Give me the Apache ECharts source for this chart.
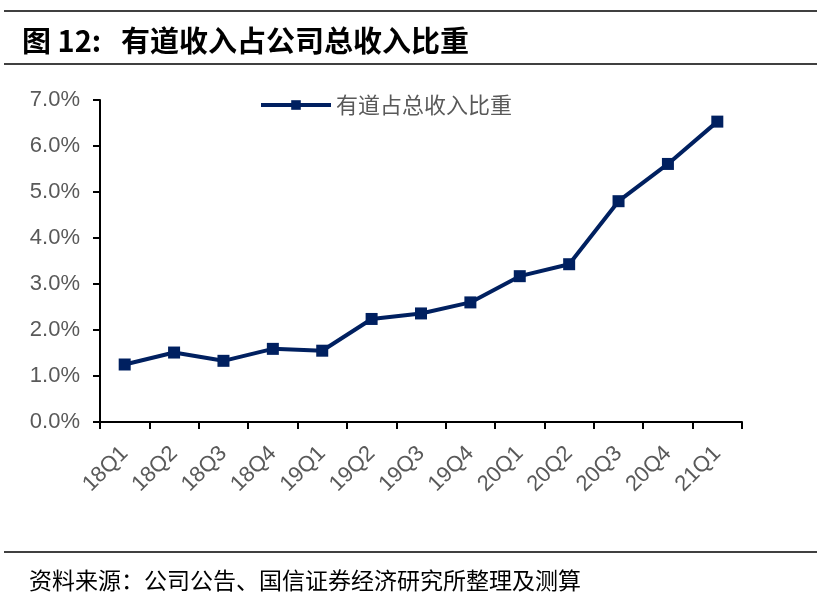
<!DOCTYPE html>
<html>
<head>
<meta charset="utf-8">
<style>
  html, body { margin: 0; padding: 0; background: #fff; }
  #chart { width: 821px; height: 597px; }
</style>
<script src="https://cdn.jsdelivr.net/npm/echarts@6/dist/echarts.min.js"></script>
</head>
<body>
<div id="chart"></div>
<script>
// 季度
var quarters = ['18Q1', '18Q2', '18Q3', '18Q4', '19Q1', '19Q2', '19Q3', '19Q4',
                '20Q1', '20Q2', '20Q3', '20Q4', '21Q1'];
// 有道占总收入比重 (%)
var shareValues = [1.25, 1.51, 1.33, 1.59, 1.55, 2.24, 2.36, 2.60, 3.17, 3.43, 4.80, 5.61, 6.53];
var seriesName = '有道占总收入比重';
var titleText = '图 12:   有道收入占公司总收入比重';
var sourceText = '资料来源：公司公告、国信证券经济研究所整理及测算';

var chart = echarts.init(document.getElementById('chart'));

var option = {
  backgroundColor: '#fff',
  animation: false,
  title: [{
    text: titleText,
    left: 17,
    top: 21,
    textStyle: {
      fontFamily: 'Noto Sans CJK SC',
      fontSize: 29,
      fontWeight: 'bold',
      color: '#000'
    }
  }, {
    text: sourceText,
    left: 24,
    top: 564,
    textStyle: {
      fontFamily: 'Noto Sans CJK SC',
      fontSize: 23,
      fontWeight: 'normal',
      color: '#000'
    }
  }],
  graphic: [
    { type: 'line', shape: { x1: 4, y1: 11, x2: 817, y2: 11 }, style: { stroke: '#000', lineWidth: 1.5 } },
    { type: 'line', shape: { x1: 4, y1: 64, x2: 817, y2: 64 }, style: { stroke: '#000', lineWidth: 1.5 } },
    { type: 'line', shape: { x1: 4, y1: 552, x2: 817, y2: 552 }, style: { stroke: '#000', lineWidth: 1.5 } }
  ],
  legend: {
    data: [seriesName],
    left: 254,
    top: 89,
    itemWidth: 70,
    itemHeight: 12,
    itemGap: 2,
    lineStyle: { width: 4 },
    textStyle: {
      fontFamily: 'Noto Sans CJK SC',
      fontSize: 22,
      color: '#595959'
    }
  },
  grid: {
    left: 100,
    right: 79,
    top: 100,
    bottom: 175
  },
  xAxis: {
    type: 'category',
    data: quarters,
    boundaryGap: true,
    axisLine: { lineStyle: { color: '#000', width: 2 } },
    axisTick: { show: true, alignWithLabel: false, length: 7, lineStyle: { color: '#000', width: 2 } },
    axisLabel: {
      rotate: 45,
      interval: 0,
      margin: 28,
      fontFamily: 'Arial, Liberation Sans',
      fontSize: 22,
      color: '#595959'
    },
    splitLine: { show: false }
  },
  yAxis: {
    type: 'value',
    min: 0,
    max: 7,
    interval: 1,
    axisLine: { show: true, lineStyle: { color: '#000', width: 2 } },
    axisTick: { show: true, length: 7, lineStyle: { color: '#000', width: 2 } },
    axisLabel: {
      margin: 20,
      fontFamily: 'Arial, Liberation Sans',
      fontSize: 22,
      color: '#595959',
      formatter: function (v) { return v.toFixed(1) + '%'; }
    },
    splitLine: { show: false }
  },
  series: [{
    name: seriesName,
    type: 'line',
    data: shareValues,
    symbol: 'rect',
    symbolSize: 12,
    lineStyle: { color: '#002060', width: 4 },
    itemStyle: { color: '#002060' }
  }]
};

chart.setOption(option);
</script>
</body>
</html>
